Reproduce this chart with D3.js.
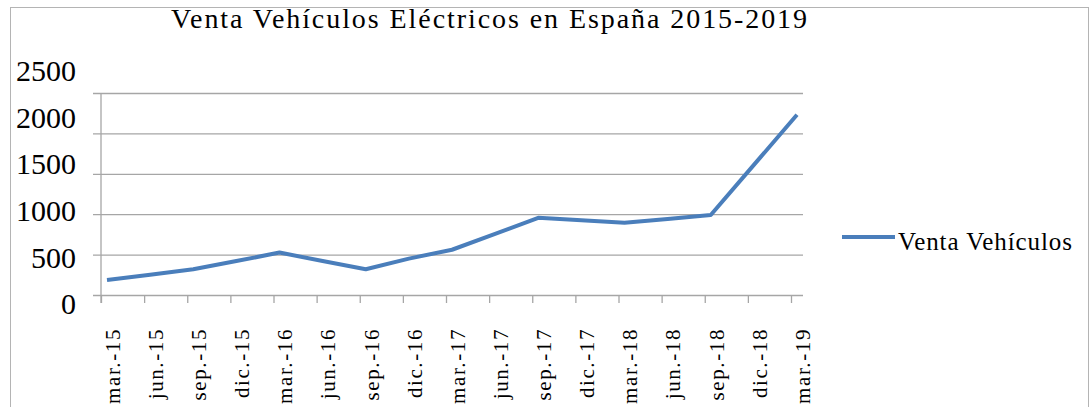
<!DOCTYPE html>
<html>
<head>
<meta charset="utf-8">
<script src="https://cdn.jsdelivr.net/npm/d3@7"></script>
<style>
  body { margin: 0; background: #fff; }
</style>
</head>
<body>
<div id="chart"></div>
<script>
// Chart data
const months = ['mar.-15', 'jun.-15', 'sep.-15', 'dic.-15', 'mar.-16', 'jun.-16', 'sep.-16', 'dic.-16',
    'mar.-17', 'jun.-17', 'sep.-17', 'dic.-17', 'mar.-18', 'jun.-18', 'sep.-18', 'dic.-18', 'mar.-19'];
const sales = [186, 250, 318, 420, 525, 420, 318, 450, 560, 755, 955, 925, 895, 940, 990, 1610, 2230];
const yTicks = [0, 500, 1000, 1500, 2000, 2500];
const title = 'Venta Vehículos Eléctricos en España 2015-2019';
const seriesName = 'Venta Vehículos';

const width = 1090;
const height = 407;
const serif = '"Liberation Serif", "Times New Roman", Tinos';
const lineColor = '#4a7ebb';
const gridColor = '#a6a6a6';

const svg = d3.select('#chart')
    .append('svg')
    .attr('width', width)
    .attr('height', height);

// outer frame
svg.append('rect')
    .attr('x', 10.5).attr('y', 7.5)
    .attr('width', 1078).attr('height', 420)
    .attr('fill', 'none')
    .attr('stroke', '#b4b4b4');

// title
svg.append('text')
    .attr('x', 171).attr('y', 28)
    .style('font-family', serif)
    .style('font-size', '28px')
    .attr('textLength', 636)
    .attr('lengthAdjust', 'spacing')
    .text(title);

// scales
const x = d3.scalePoint().domain(months).range([107, 797]);
const y = d3.scaleLinear().domain([0, 2500]).range([295, 93]);
// value labels sit a little apart from their gridlines in the original
const yLabel = d3.scaleLinear().domain([0, 2500]).range([304, 71]);

// gridlines
svg.append('g')
    .attr('transform', 'translate(93,0)')
    .call(d3.axisLeft(y).tickValues(yTicks).tickSize(-710).tickFormat(''))
    .call(g => g.select('.domain').remove())
    .call(g => g.selectAll('.tick line').attr('stroke', gridColor).attr('stroke-width', 1.3));

// y labels
svg.append('g')
    .attr('transform', 'translate(76,0)')
    .call(d3.axisLeft(yLabel).tickValues(yTicks).tickSize(0).tickPadding(0).tickFormat(d3.format('d')))
    .call(g => g.select('.domain').remove())
    .call(g => g.selectAll('text')
        .style('font-family', serif)
        .style('font-size', '30px')
        .attr('fill', '#000'));

// vertical axis line
svg.append('line')
    .attr('x1', 101).attr('x2', 101)
    .attr('y1', y(2500)).attr('y2', 303)
    .attr('stroke', gridColor).attr('stroke-width', 1.3);

// x axis
const xAxis = svg.append('g')
    .attr('transform', `translate(0,${y(0)})`)
    .call(d3.axisBottom(x).tickSize(8))
    .call(g => g.select('.domain').remove());

xAxis.selectAll('.tick line')
    .attr('x1', -6).attr('x2', -6)
    .attr('stroke', gridColor).attr('stroke-width', 1.3);

xAxis.selectAll('.tick text')
    .style('font-family', serif)
    .style('font-size', '21px')
    .attr('fill', '#000')
    .attr('letter-spacing', 1.6)
    .attr('text-anchor', 'end')
    .attr('x', 0).attr('y', 0)
    .attr('dy', '0.35em')
    .attr('transform', 'translate(5,33) rotate(-90)');

// line
const line = d3.line()
    .x((d, i) => x(months[i]))
    .y(d => y(d));

svg.append('path')
    .datum(sales)
    .attr('d', line)
    .attr('fill', 'none')
    .attr('stroke', lineColor)
    .attr('stroke-width', 4)
    .attr('stroke-linejoin', 'round');

// legend
const legend = svg.append('g').attr('transform', 'translate(842,237)');
legend.append('line')
    .attr('x1', 0).attr('x2', 53)
    .attr('stroke', lineColor).attr('stroke-width', 4);
legend.append('text')
    .attr('x', 56).attr('y', 13)
    .style('font-family', serif)
    .style('font-size', '25px')
    .attr('textLength', 174)
    .attr('lengthAdjust', 'spacing')
    .text(seriesName);
</script>
</body>
</html>
